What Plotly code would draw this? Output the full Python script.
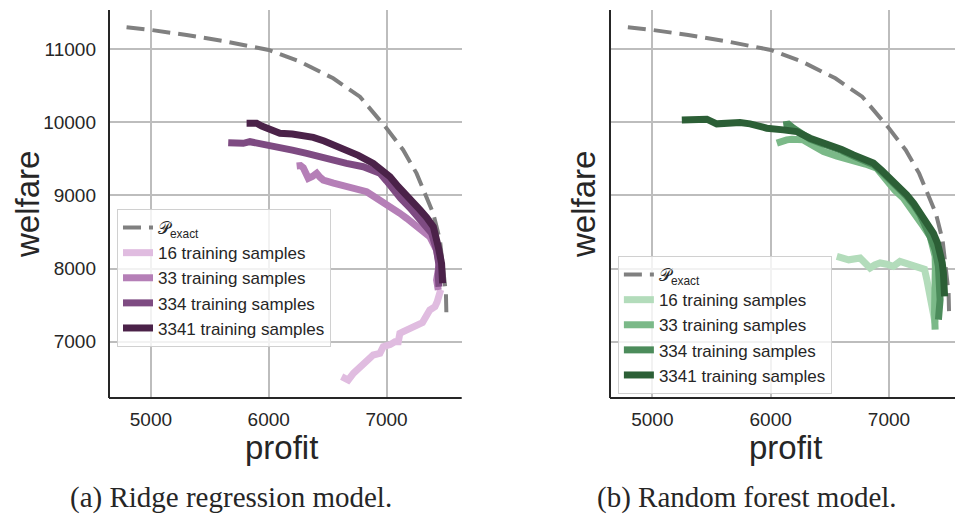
import plotly.graph_objects as go

# ---------------- data ----------------
exact_profit = [4793, 5000, 5303, 5642, 6000, 6265, 6547, 6774, 7000, 7141, 7255, 7340, 7396, 7453, 7481, 7504, 7509]
exact_welfare = [11301, 11265, 11196, 11105, 10991, 10831, 10603, 10352, 9919, 9623, 9303, 8984, 8756, 8391, 8026, 7661, 7319]

ridge_16_profit = [6619, 6675, 6720, 6774, 6830, 6887, 6944, 6972, 7030, 7071, 7100, 7113, 7142, 7212, 7260, 7305, 7367, 7411, 7430, 7452, 7460]
ridge_16_welfare = [6521, 6476, 6570, 6658, 6740, 6818, 6841, 6932, 6960, 7000, 7000, 7114, 7137, 7183, 7230, 7262, 7434, 7479, 7547, 7661, 7710]

ridge_33_profit = [6237, 6270, 6293, 6315, 6336, 6370, 6407, 6435, 6463, 6550, 6661, 6750, 6831, 6890, 6944, 7000, 7057, 7110, 7171, 7256, 7320, 7367, 7425, 7445, 7439, 7425, 7439]
ridge_33_welfare = [9404, 9410, 9380, 9300, 9235, 9260, 9304, 9250, 9212, 9170, 9120, 9090, 9052, 8990, 8938, 8880, 8825, 8760, 8688, 8573, 8500, 8436, 8254, 8080, 7980, 7844, 7707]

ridge_334_profit = [5656, 5720, 5784, 5840, 5900, 5982, 6095, 6200, 6322, 6420, 6520, 6660, 6802, 6944, 7000, 7057, 7120, 7200, 7256, 7320, 7383, 7425, 7445, 7439, 7435, 7445]
ridge_334_welfare = [9722, 9715, 9714, 9736, 9720, 9700, 9668, 9620, 9577, 9530, 9486, 9440, 9394, 9304, 9200, 9075, 8960, 8830, 8720, 8610, 8483, 8250, 8050, 7900, 7800, 7752]

ridge_3341_profit = [5812, 5850, 5897, 5940, 5982, 6095, 6200, 6290, 6378, 6470, 6560, 6661, 6760, 6887, 6960, 7029, 7100, 7171, 7240, 7284, 7340, 7397, 7439, 7467, 7476]
ridge_3341_welfare = [9988, 9998, 9988, 9950, 9919, 9851, 9840, 9820, 9795, 9745, 9690, 9622, 9550, 9440, 9360, 9257, 9120, 8984, 8880, 8802, 8700, 8573, 8300, 8072, 7799]

forest_16_profit = [6559, 6600, 6660, 6756, 6800, 6840, 6880, 6925, 6980, 7037, 7093, 7150, 7206, 7262, 7300, 7320, 7340, 7362, 7375, 7390]
forest_16_welfare = [8167, 8140, 8120, 8145, 8060, 8008, 8050, 8077, 8060, 8030, 8098, 8070, 8053, 8030, 7990, 7848, 7700, 7575, 7439, 7257]

forest_33_profit = [6052, 6080, 6136, 6180, 6276, 6360, 6446, 6560, 6700, 6800, 6897, 6981, 7050, 7122, 7180, 7235, 7290, 7348, 7375, 7390, 7392, 7390, 7375, 7385, 7390]
forest_33_welfare = [9716, 9740, 9761, 9770, 9761, 9680, 9601, 9540, 9488, 9430, 9374, 9200, 9070, 8964, 8840, 8713, 8580, 8440, 8300, 8167, 8030, 7894, 7620, 7400, 7165]

forest_334_profit = [6107, 6150, 6192, 6260, 6333, 6420, 6502, 6600, 6700, 6790, 6868, 6940, 7009, 7080, 7150, 7210, 7263, 7348, 7390, 7418, 7432, 7418]
forest_334_welfare = [9966, 9975, 9921, 9850, 9770, 9720, 9680, 9615, 9540, 9480, 9425, 9320, 9215, 9100, 8990, 8870, 8740, 8440, 8258, 8030, 7575, 7302]

forest_3341_profit = [5249, 5350, 5460, 5544, 5640, 5741, 5826, 5900, 5967, 6107, 6220, 6333, 6420, 6502, 6600, 6700, 6790, 6868, 6940, 7009, 7080, 7150, 7210, 7263, 7320, 7375, 7410, 7432, 7450, 7460, 7470]
forest_3341_welfare = [10034, 10040, 10044, 9980, 9990, 9997, 9980, 9950, 9921, 9898, 9875, 9784, 9740, 9693, 9630, 9556, 9500, 9443, 9340, 9238, 9120, 9009, 8890, 8759, 8620, 8486, 8350, 8213, 8080, 7940, 7620]

sample_labels = ["16 training samples", "33 training samples", "334 training samples", "3341 training samples"]
x_ticks = [5000, 6000, 7000]
x_tick_text = ["5000", "6000", "7000"]
y_ticks = [7000, 8000, 9000, 10000, 11000]
y_tick_text = ["7000", "8000", "9000", "10000", "11000"]
captions = ["(a) Ridge regression model.", "(b) Random forest model."]

purple_colors = ["#e0bce0", "#b57fb7", "#7e4b82", "#4b2249"]
green_colors = ["#b3dcbb", "#7bb988", "#4c8c5b", "#2c5f36"]

ridge_series = [(ridge_16_profit, ridge_16_welfare), (ridge_33_profit, ridge_33_welfare),
                (ridge_334_profit, ridge_334_welfare), (ridge_3341_profit, ridge_3341_welfare)]
forest_series = [(forest_16_profit, forest_16_welfare), (forest_33_profit, forest_33_welfare),
                 (forest_334_profit, forest_334_welfare), (forest_3341_profit, forest_3341_welfare)]

# ---------------- figure ----------------
fig = go.Figure()
FONT = "Liberation Sans, Arial, sans-serif"
SERIF = "Liberation Serif, Times New Roman, serif"
TXT = "#262626"

for series, colors, xa, ya, leg in [
        (ridge_series, purple_colors, "x", "y", "legend"),
        (forest_series, green_colors, "x2", "y2", "legend2")]:
    fig.add_trace(go.Scatter(x=exact_profit, y=exact_welfare, mode="lines",
                             line=dict(color="#808080", width=4, dash="18px,8px"),
                             name="𝒫<sub>exact</sub>", xaxis=xa, yaxis=ya, legend=leg))
    for (px_, wy_), c, lab in zip(series, colors, sample_labels):
        fig.add_trace(go.Scatter(x=px_, y=wy_, mode="lines",
                                 line=dict(color=c, width=7),
                                 name=lab, xaxis=xa, yaxis=ya, legend=leg))

ydom = [0.2302, 0.9807]
axis_common = dict(showgrid=True, gridcolor="#bdbdbd", gridwidth=1.6, zeroline=False,
                   ticks="", showline=False, tickfont=dict(family=FONT, size=19, color=TXT))

legend_common = dict(xanchor="left", yanchor="top",
                     bgcolor="rgba(255,255,255,0.8)", bordercolor="#d0d0d0", borderwidth=1,
                     font=dict(family=FONT, size=17, color=TXT), tracegroupgap=0)

fig.update_layout(
    width=955, height=517,
    margin=dict(l=0, r=0, t=0, b=0),
    paper_bgcolor="white", plot_bgcolor="white",
    showlegend=True,
    xaxis=dict(domain=[0.11414, 0.48346], range=[4644, 7638], tickvals=x_ticks, ticktext=x_tick_text,
               anchor="y", ticklabelstandoff=8, **axis_common),
    yaxis=dict(domain=ydom, range=[6230, 11538], tickvals=y_ticks, ticktext=y_tick_text,
               anchor="x", ticklabelstandoff=12, **axis_common),
    xaxis2=dict(domain=[0.63874, 1.0], range=[4642, 7558], tickvals=x_ticks, ticktext=x_tick_text,
                anchor="y2", ticklabelstandoff=8, **axis_common),
    yaxis2=dict(domain=ydom, range=[6230, 11538], tickvals=y_ticks, showticklabels=False,
                anchor="x2", **axis_common),
    legend=dict(x=0.1225, y=0.5957, **legend_common),
    legend2=dict(x=0.647, y=0.5048, **legend_common),
)

# spines (left + bottom)
for xr, yr in [("x", "y"), ("x2", "y2")]:
    fig.add_shape(type="line", xref=f"{xr} domain", yref=f"{yr} domain",
                  x0=0, x1=0, y0=0, y1=1, line=dict(color="#262626", width=2))
    fig.add_shape(type="line", xref=f"{xr} domain", yref=f"{yr} domain",
                  x0=0, x1=1, y0=0, y1=0, line=dict(color="#262626", width=2))

W, H = 955, 517
def ann(text, px, py, size, angle=0, family=FONT):
    fig.add_annotation(text=text, x=px / W, y=1 - py / H, xref="paper", yref="paper",
                       showarrow=False, textangle=angle, xanchor="center", yanchor="middle",
                       font=dict(family=family, size=size, color=TXT))

ann("welfare", 27, 205, 33, -90)
ann("welfare", 583, 205, 33, -90)
ann("profit", 281, 447, 33)
ann("profit", 785, 447, 33)
ann(captions[0], 231, 497, 29, family=SERIF)
ann(captions[1], 747, 497, 29, family=SERIF)

fig.write_html("out.html")
